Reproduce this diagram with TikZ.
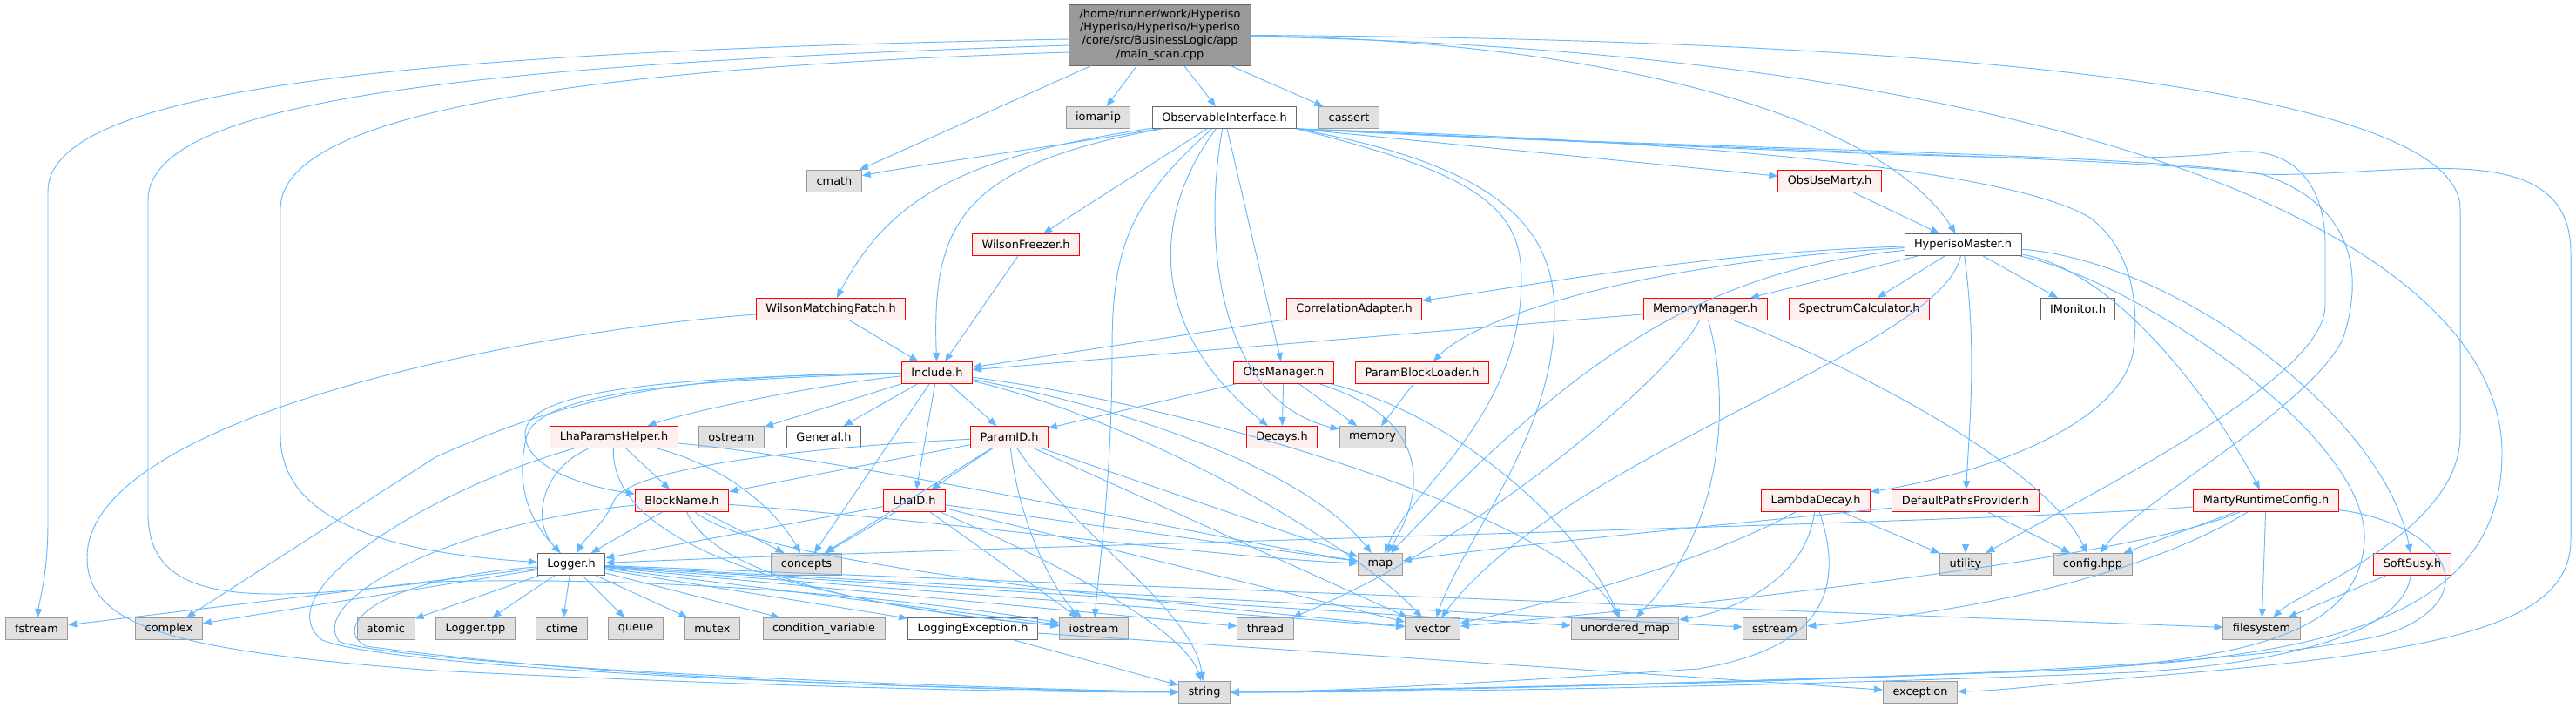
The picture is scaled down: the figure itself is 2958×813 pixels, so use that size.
\documentclass[tikz,border=0pt]{standalone}
\usepackage{fontspec}
\setmainfont{DejaVu Sans}
\usepackage{tikz}
\usetikzlibrary{calc}
\usetikzlibrary{arrows.meta}
\definecolor{edgeblue}{HTML}{63B8FF}
\definecolor{redfill}{HTML}{FFF0F0}
\definecolor{sysfill}{HTML}{E0E0E0}
\definecolor{sysdraw}{HTML}{999999}
\definecolor{hdrdraw}{HTML}{666666}
\tikzstyle{filenode} = [draw, rectangle, minimum height=0.75cm, inner xsep=0.33cm, inner ysep=0pt, line width=0.8pt, font=\fontsize{11}{13}\selectfont]
\tikzstyle{hdrnode} = [filenode, draw=hdrdraw, fill=white]
\tikzstyle{rednode} = [filenode, draw=red, fill=redfill]
\tikzstyle{sysnode} = [filenode, draw=sysdraw, fill=sysfill]
\tikzstyle{rootnode} = [filenode, draw=hdrdraw, fill=sysdraw, minimum width=6.27cm, minimum height=2.1cm, align=center]
\tikzstyle{dep} = [draw=edgeblue, line width=0.8pt, -{Triangle[length=0.3cm,width=0.24cm]}]

\begin{document}
\begin{tikzpicture}[x=0.03cm, y=-0.03cm]
    \useasboundingbox (0,0) rectangle (2958,813);

    \node[rootnode] (main) at (1332,40) {/home/runner/work/Hyperiso\\/Hyperiso/Hyperiso/Hyperiso\\/core/src/BusinessLogic/app\\/main\_scan.cpp};

    \node[sysnode] (iomanip) at (1261,135) {iomanip};
    \node[hdrnode] (obsif) at (1406,135) {ObservableInterface.h};
    \node[sysnode] (cassert) at (1549,135) {cassert};

    \node[sysnode] (cmath) at (958,208) {cmath};
    \node[rednode] (obsuse) at (2101,208) {ObsUseMarty.h};

    \node[rednode] (wfreeze) at (1178,281) {WilsonFreezer.h};
    \node[hdrnode] (hmaster) at (2254,281) {HyperisoMaster.h};

    \node[rednode] (wmatch) at (954,355) {WilsonMatchingPatch.h};
    \node[rednode] (corr) at (1555,355) {CorrelationAdapter.h};
    \node[rednode] (memmgr) at (1958,355) {MemoryManager.h};
    \node[rednode] (spec) at (2135,355) {SpectrumCalculator.h};
    \node[hdrnode] (imon) at (2386,355) {IMonitor.h};

    \node[rednode] (incl) at (1076,428) {Include.h};
    \node[rednode] (obsmgr) at (1474,428) {ObsManager.h};
    \node[rednode] (pbl) at (1633,428) {ParamBlockLoader.h};

    \node[rednode] (lhaph) at (705,502) {LhaParamsHelper.h};
    \node[sysnode] (ostream) at (840,502) {ostream};
    \node[hdrnode] (general) at (946,502) {General.h};
    \node[rednode] (paramid) at (1159,502) {ParamID.h};
    \node[rednode] (decays) at (1472,502) {Decays.h};
    \node[sysnode] (memory) at (1576,502) {memory};

    \node[rednode] (blockname) at (783,575) {BlockName.h};
    \node[rednode] (lhaid) at (1050,575) {LhaID.h};
    \node[rednode] (lambda) at (2085,575) {LambdaDecay.h};
    \node[rednode] (defpaths) at (2257,575) {DefaultPathsProvider.h};
    \node[rednode] (marty) at (2602,575) {MartyRuntimeConfig.h};

    \node[hdrnode] (logger) at (656,648) {Logger.h};
    \node[sysnode] (concepts) at (926,648) {concepts};
    \node[sysnode] (map) at (1585,648) {map};
    \node[sysnode] (utility) at (2257,648) {utility};
    \node[sysnode] (confighpp) at (2403,648) {config.hpp};
    \node[rednode] (softsusy) at (2770,648) {SoftSusy.h};

    \node[sysnode] (fstream) at (42,722) {fstream};
    \node[sysnode] (complex) at (194,722) {complex};
    \node[sysnode] (atomic) at (443,722) {atomic};
    \node[sysnode] (loggertpp) at (546,722) {Logger.tpp};
    \node[sysnode] (ctime) at (645,722) {ctime};
    \node[sysnode] (queue) at (730,722) {queue};
    \node[sysnode] (mutex) at (818,722) {mutex};
    \node[sysnode] (condvar) at (946,722) {condition\_variable};
    \node[hdrnode] (logexc) at (1117,722) {LoggingException.h};
    \node[sysnode] (iostream) at (1256,722) {iostream};
    \node[sysnode] (thread) at (1453,722) {thread};
    \node[sysnode] (vector) at (1645,722) {vector};
    \node[sysnode] (umap) at (1866,722) {unordered\_map};
    \node[sysnode] (sstream) at (2038,722) {sstream};
    \node[sysnode] (filesystem) at (2597,722) {filesystem};

    \node[sysnode] (string) at (1383,795) {string};
    \node[sysnode] (exception) at (2205,795) {exception};

    \draw[dep] ($(main.west)+(0,5)$) .. controls (400,60) and (55,110) .. (55,220) -- (55,600) .. controls (55,660) and (45,690) .. (fstream);
    \draw[dep] ($(main.west)+(0,12)$) .. controls (500,75) and (170,120) .. (170,230) -- (170,590) .. controls (170,700) and (300,690) .. (500,668) .. controls (800,660) and (1100,695) .. (iostream);
    \draw[dep] ($(main.west)+(0,20)$) .. controls (600,80) and (322,140) .. (322,240) -- (322,500) .. controls (322,600) and (450,635) .. (logger);
    \draw[dep] (main) -- (cmath);
    \draw[dep] (main) -- (iomanip);
    \draw[dep] (main) -- (obsif);
    \draw[dep] (main) -- (cassert);
    \draw[dep] (main) .. controls (1800,45) and (2150,120) .. (hmaster);
    \draw[dep] (main) .. controls (2300,45) and (2825,110) .. (2825,240) -- (2825,500) .. controls (2825,610) and (2640,680) .. (filesystem);
    \draw[dep] (main) .. controls (2400,60) and (2873,280) .. (2873,520) .. controls (2873,720) and (2650,760) .. (2300,772) .. controls (1900,785) and (1600,795) .. (string);

    \draw[dep] (obsif) .. controls (1200,170) and (1050,190) .. (cmath);
    \draw[dep] (obsif) .. controls (1100,180) and (1020,230) .. (wmatch);
    \draw[dep] (obsif) .. controls (1100,190) and (1070,260) .. (incl);
    \draw[dep] (obsif) -- (wfreeze);
    \draw[dep] (obsif) .. controls (1300,230) and (1277,280) .. (1277,400) .. controls (1277,550) and (1262,650) .. (iostream);
    \draw[dep] (obsif) .. controls (1320,250) and (1320,380) .. (decays);
    \draw[dep] (obsif) .. controls (1380,280) and (1400,460) .. (memory);
    \draw[dep] (obsif) -- (obsmgr);
    \draw[dep] (obsif.south east) .. controls (1700,200) and (1747,240) .. (1747,320) .. controls (1747,480) and (1620,560) .. (map);
    \draw[dep] (obsif.south east) .. controls (1720,190) and (1785,260) .. (1785,360) .. controls (1785,500) and (1680,620) .. (vector);
    \draw[dep] (obsif.south east) -- (obsuse);
    \draw[dep] (obsif.south east) .. controls (1900,160) and (2300,190) .. (2400,250) .. controls (2453,290) and (2455,360) .. (2450,400) .. controls (2440,480) and (2300,540) .. (lambda);
    \draw[dep] (obsif.south east) .. controls (1900,165) and (2400,195) .. (2560,175) .. controls (2640,165) and (2670,220) .. (2670,280) -- (2670,350) .. controls (2670,430) and (2450,540) .. (utility);
    \draw[dep] (obsif.south east) .. controls (1900,170) and (2450,175) .. (2597,200) .. controls (2690,230) and (2720,300) .. (2690,390) .. controls (2650,470) and (2450,580) .. (confighpp);
    \draw[dep] (obsif.south east) .. controls (1900,170) and (2450,180) .. (2597,200) .. controls (2750,205) and (2952,150) .. (2952,290) -- (2952,620) .. controls (2952,720) and (2800,750) .. (2450,778) .. controls (2350,786) and (2300,793) .. (exception);

    \draw[dep] (obsuse) -- (hmaster);
    \draw[dep] (hmaster) .. controls (1950,290) and (1750,330) .. (corr);
    \draw[dep] (hmaster) .. controls (1900,300) and (1700,360) .. (pbl);
    \draw[dep] (hmaster) .. controls (1950,310) and (1800,420) .. (map);
    \draw[dep] (hmaster) -- (memmgr);
    \draw[dep] (hmaster) -- (spec);
    \draw[dep] (hmaster) -- (imon);
    \draw[dep] (hmaster) .. controls (2230,400) and (1800,520) .. (vector);
    \draw[dep] (hmaster) .. controls (2270,400) and (2262,480) .. (defpaths);
    \draw[dep] (hmaster) .. controls (2430,310) and (2540,460) .. (marty);
    \draw[dep] (hmaster) .. controls (2500,300) and (2740,480) .. (softsusy);
    \draw[dep] (hmaster) .. controls (2450,320) and (2720,500) .. (2715,620) .. controls (2710,720) and (2600,752) .. (2400,768) .. controls (2000,785) and (1600,792) .. (string);

    \draw[dep] (wfreeze) -- (incl);
    \draw[dep] (wmatch) -- (incl);
    \draw[dep] (wmatch) .. controls (600,380) and (100,480) .. (100,640) .. controls (100,720) and (200,748) .. (500,770) .. controls (900,790) and (1200,795) .. (string);
    \draw[dep] (corr) -- (incl);
    \draw[dep] (memmgr) -- (incl);
    \draw[dep] (memmgr) .. controls (1920,430) and (1700,620) .. (thread);
    \draw[dep] (memmgr) .. controls (1985,450) and (1985,600) .. (umap);
    \draw[dep] (memmgr) .. controls (2150,430) and (2350,540) .. (confighpp);

    \draw[dep] (obsmgr) -- (paramid);
    \draw[dep] (obsmgr) -- (decays);
    \draw[dep] (obsmgr) -- (memory);
    \draw[dep] (obsmgr) .. controls (1640,480) and (1640,560) .. (map);
    \draw[dep] (obsmgr) .. controls (1650,470) and (1800,580) .. (umap);
    \draw[dep] (pbl) -- (memory);

    \draw[dep] (incl) .. controls (950,440) and (800,470) .. (lhaph);
    \draw[dep] (incl) -- (ostream);
    \draw[dep] (incl) -- (general);
    \draw[dep] (incl) -- (paramid);
    \draw[dep] (incl) -- (lhaid);
    \draw[dep] (incl) .. controls (750,433) and (600,450) .. (603,500) .. controls (605,540) and (680,560) .. (blockname);
    \draw[dep] (incl) .. controls (760,436) and (620,455) .. (605,500) .. controls (590,560) and (610,600) .. (logger);
    \draw[dep] (incl) -- (concepts);
    \draw[dep] (incl) .. controls (760,430) and (640,462) .. (500,525) -- (complex);
    \draw[dep] (incl) .. controls (1300,470) and (1500,540) .. (map);
    \draw[dep] (incl) .. controls (1300,480) and (1550,620) .. (vector);
    \draw[dep] (incl) .. controls (1400,470) and (1800,600) .. (umap);

    \draw[dep] (lhaph) -- (blockname);
    \draw[dep] (lhaph) .. controls (620,540) and (610,600) .. (logger);
    \draw[dep] (lhaph) .. controls (850,540) and (900,600) .. (concepts);
    \draw[dep] (lhaph) .. controls (500,560) and (300,680) .. (370,735) .. controls (450,768) and (1000,790) .. (string);
    \draw[dep] (lhaph) .. controls (1000,530) and (1400,620) .. (map);
    \draw[dep] (lhaph) .. controls (700,620) and (900,690) .. (iostream);

    \draw[dep] (blockname) -- (logger);
    \draw[dep] (blockname) -- (concepts);
    \draw[dep] (blockname) .. controls (520,600) and (350,690) .. (390,737) .. controls (460,762) and (1000,788) .. (string);
    \draw[dep] (blockname) .. controls (1100,600) and (1400,640) .. (map);
    \draw[dep] (blockname) .. controls (820,660) and (1000,700) .. (iostream);
    \draw[dep] (blockname) .. controls (860,640) and (1200,680) .. (vector);

    \draw[dep] (paramid) -- (blockname);
    \draw[dep] (paramid) .. controls (900,515) and (720,540) .. (705,575) .. controls (695,600) and (670,620) .. (logger);
    \draw[dep] (paramid) -- (lhaid);
    \draw[dep] (paramid) -- (concepts);
    \draw[dep] (paramid) -- (map);
    \draw[dep] (paramid) .. controls (1170,600) and (1210,680) .. (iostream);
    \draw[dep] (paramid) .. controls (1240,620) and (1370,700) .. (string);
    \draw[dep] (paramid) -- (vector);

    \draw[dep] (lhaid) -- (logger);
    \draw[dep] (lhaid) -- (concepts);
    \draw[dep] (lhaid) -- (map);
    \draw[dep] (lhaid) -- (iostream);
    \draw[dep] (lhaid) .. controls (1200,640) and (1360,720) .. (string);
    \draw[dep] (lhaid) -- (vector);

    \draw[dep] (logger) -- (fstream);
    \draw[dep] (logger) -- (complex);
    \draw[dep] (logger) -- (atomic);
    \draw[dep] (logger) -- (loggertpp);
    \draw[dep] (logger) -- (ctime);
    \draw[dep] (logger) -- (queue);
    \draw[dep] (logger) -- (mutex);
    \draw[dep] (logger) -- (condvar);
    \draw[dep] (logger) -- (logexc);
    \draw[dep] (logger) -- (iostream);
    \draw[dep] (logger) -- (thread);
    \draw[dep] (logger) -- (vector);
    \draw[dep] (logger) -- (umap);
    \draw[dep] (logger) -- (sstream);
    \draw[dep] (logger) -- (filesystem);
    \draw[dep] (logger) .. controls (430,665) and (380,720) .. (420,742) .. controls (700,780) and (1100,792) .. (string);
    \draw[dep] (logexc) -- (string);
    \draw[dep] (logexc) -- (exception);

    \draw[dep] (lambda) -- (utility);
    \draw[dep] (lambda) .. controls (1950,650) and (1750,700) .. (vector);
    \draw[dep] (lambda) .. controls (2075,660) and (2000,700) .. (umap);
    \draw[dep] (lambda) .. controls (2120,680) and (2090,745) .. (1950,768) .. controls (1700,785) and (1500,795) .. (string);
    \draw[dep] (defpaths) -- (utility);
    \draw[dep] (defpaths) -- (confighpp);
    \draw[dep] (defpaths) .. controls (2000,600) and (1700,630) .. (map);
    \draw[dep] (marty) .. controls (2300,600) and (1200,625) .. (logger);
    \draw[dep] (marty) -- (confighpp);
    \draw[dep] (marty) -- (filesystem);
    \draw[dep] (marty) .. controls (2480,650) and (2300,700) .. (sstream);
    \draw[dep] (marty) .. controls (2450,640) and (2000,690) .. (vector);
    \draw[dep] (marty) .. controls (2800,600) and (2860,680) .. (2750,725) .. controls (2600,775) and (1800,790) .. (string);
    \draw[dep] (softsusy) -- (filesystem);
    \draw[dep] (softsusy) .. controls (2760,720) and (2650,760) .. (2450,772) .. controls (2000,790) and (1600,795) .. (string);
\end{tikzpicture}
\end{document}
